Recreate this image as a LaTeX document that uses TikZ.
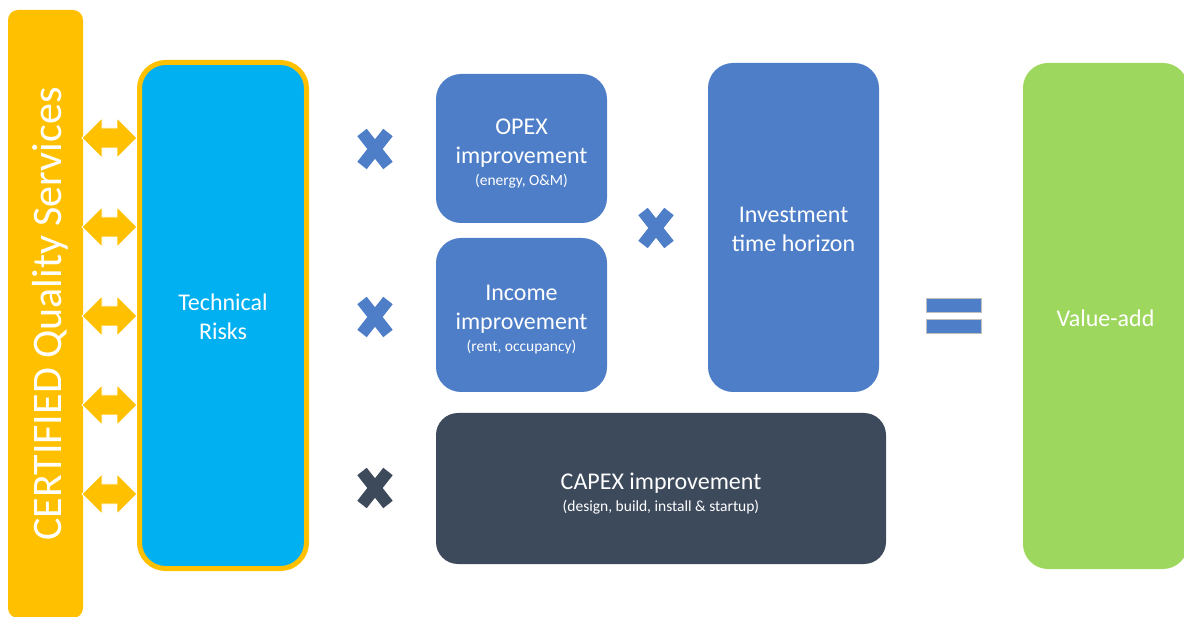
\documentclass[tikz,border=0pt]{standalone}
\usepackage{fontspec}
\setmainfont{Carlito}
\definecolor{yellowC}{HTML}{FFC000}
\definecolor{cyanC}{HTML}{00B0F0}
\definecolor{blueC}{HTML}{4E7EC8}
\definecolor{darkC}{HTML}{3D4A5C}
\definecolor{greenC}{HTML}{9ED75E}
\newcommand\myMain{\fontsize{24}{29}\selectfont}
\newcommand\mySmall{\fontsize{15.5}{18}\selectfont}
\begin{document}
\begin{tikzpicture}[x=1pt,y=-1pt,
  box/.style={rectangle, rounded corners=25pt, inner sep=0pt},
  txt/.style={inner sep=0pt, text=white, align=center, font=\myMain},
  dblarrow/.style={fill=yellowC, draw=white, line width=0.8pt, line join=miter},
  xmark/.pic={\draw[line width=12pt] (-13,-16.5) -- (13,16.5) (-13,16.5) -- (13,-16.5);},
  eqbar/.style={fill=blueC, draw=black!25, line width=0.5pt}]
\useasboundingbox (0,0) rectangle (1184,617);
\clip (0,0) rectangle (1184,617);

% certified bar
\node[fill=yellowC, rounded corners=10pt, minimum width=75pt, minimum height=608pt, inner sep=0pt] (bar) at (45.5,314) {};
\node[rotate=90, anchor=base, text=white, font=\fontsize{42}{50}\selectfont, inner sep=0pt] (cqs) at (61,314) {CERTIFIED Quality Services};

% double arrows
\foreach \c [count=\i] in {138,227,316,405,494} {
  \coordinate (aL\i) at (82,\c);
  \filldraw[dblarrow] (aL\i) -- ++(20,-20) -- ++(0,10) -- ++(15,0) -- ++(0,-10) -- ++(20,20) -- ++(-20,20) -- ++(0,-10) -- ++(-15,0) -- ++(0,10) -- cycle;
}

% technical risks
\node[box, fill=cyanC, draw=yellowC, line width=5pt, minimum width=167pt, minimum height=506pt, rounded corners=26pt] (tech) at (223,315.5) {};
\node[txt] (techT) at (223,317) {Technical\\Risks};

% multiplication marks
\pic[color=blueC] (x1) at (375,149) {xmark};
\pic[color=blueC] (x2) at (375,317) {xmark};
\pic[color=darkC] (x3) at (375,488) {xmark};
\pic[color=blueC] (x4) at (656,228) {xmark};

% boxes
\node[box, fill=blueC, minimum width=171pt, minimum height=149pt] (opex) at (521.5,148.5) {};
\node[txt] (opexT) at (521.5,153.5) {OPEX\\improvement\\[-7pt]{\mySmall (energy, O\&M)}};
\node[box, fill=blueC, minimum width=171pt, minimum height=154pt] (income) at (521.5,315) {};
\node[txt] (incomeT) at (521.5,319.5) {Income\\improvement\\[-7pt]{\mySmall (rent, occupancy)}};
\node[box, fill=blueC, minimum width=171pt, minimum height=329pt] (invest) at (793.5,227.5) {};
\node[txt] (investT) at (793.5,229.5) {Investment\\time horizon};
\node[box, fill=darkC, minimum width=450pt, minimum height=151pt, rounded corners=22pt] (capex) at (661,488.5) {};
\node[txt] (capexT) at (661,493.5) {CAPEX improvement\\[-7pt]{\mySmall (design, build, install \& startup)}};

% equals
\path[eqbar] (926,298) rectangle (981,312);
\path[eqbar] (926,319) rectangle (981,333);

% value-add
\node[box, fill=greenC, minimum width=165pt, minimum height=506pt] (value) at (1105.5,316) {};
\node[txt] (valueT) at (1105.5,318) {Value-add};
\end{tikzpicture}
\end{document}
